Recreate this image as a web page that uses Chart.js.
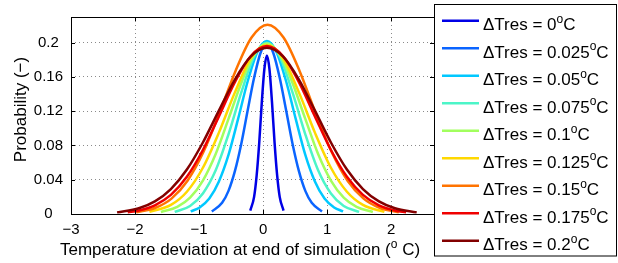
<!DOCTYPE html>
<html>
<head>
<meta charset="utf-8">
<script src="https://cdn.jsdelivr.net/npm/chart.js@4.4.1/dist/chart.umd.min.js"></script>
<style>
  html, body { margin: 0; padding: 0; background: #fff; }
  #wrap { width: 618px; height: 263px; }
</style>
</head>
<body>
<div id="wrap"><canvas id="chart" width="618" height="263"></canvas></div>
<script>
// values (x in deg C, y probability)
const tresLabels = ["0", "0.025", "0.05", "0.075", "0.1", "0.125", "0.15", "0.175", "0.2"];
const lineColors = ["#0000e6", "#0a64ff", "#00c8ff", "#4cf5c8", "#a2ff5e", "#ffd800", "#ff7300", "#f00000", "#820000"];

const xTicks = [-3, -2, -1, 0, 1, 2];
const yTicks = [0, 0.04, 0.08, 0.12, 0.16, 0.2];

const x0 = [-0.20, -0.14, -0.10, -0.06, -0.02, 0.02, 0.06, 0.10, 0.14, 0.18, 0.22, 0.26, 0.32];
const y0 = [0.004, 0.020, 0.045, 0.083, 0.130, 0.169, 0.185, 0.169, 0.130, 0.083, 0.045, 0.020, 0.004];
const x1 = [-0.80, -0.64, -0.54, -0.44, -0.34, -0.24, -0.14, -0.04, 0.06, 0.16, 0.26, 0.36, 0.46, 0.56, 0.66, 0.76, 0.92];
const y1 = [0.003, 0.013, 0.027, 0.050, 0.082, 0.121, 0.159, 0.188, 0.199, 0.188, 0.159, 0.121, 0.082, 0.050, 0.027, 0.013, 0.003];
const x2 = [-1.13, -0.99, -0.84, -0.69, -0.54, -0.39, -0.24, -0.09, 0.06, 0.21, 0.36, 0.51, 0.66, 0.81, 0.96, 1.11, 1.25];
const y2 = [0.003, 0.0076, 0.018, 0.038, 0.069, 0.111, 0.155, 0.189, 0.202, 0.189, 0.155, 0.111, 0.069, 0.038, 0.018, 0.0076, 0.003];
const x3 = [-1.38, -1.14, -0.94, -0.74, -0.54, -0.34, -0.14, 0.06, 0.26, 0.46, 0.66, 0.86, 1.06, 1.26, 1.50];
const y3 = [0.0024, 0.0094, 0.024, 0.051, 0.093, 0.142, 0.184, 0.200, 0.184, 0.142, 0.093, 0.051, 0.024, 0.0094, 0.0024];
const x4 = [-1.595, -1.34, -1.14, -0.94, -0.74, -0.54, -0.34, -0.14, 0.06, 0.26, 0.46, 0.66, 0.86, 1.06, 1.26, 1.46, 1.715];
const y4 = [0.0023, 0.0083, 0.019, 0.039, 0.070, 0.111, 0.153, 0.186, 0.199, 0.186, 0.153, 0.111, 0.070, 0.039, 0.019, 0.0083, 0.0023];
const x5 = [-1.775, -1.44, -1.19, -0.94, -0.69, -0.44, -0.19, 0.06, 0.31, 0.56, 0.81, 1.06, 1.31, 1.56, 1.895];
const y5 = [0.0025, 0.0106, 0.026, 0.054, 0.095, 0.142, 0.182, 0.197, 0.182, 0.142, 0.095, 0.054, 0.026, 0.0106, 0.0025];
const x6 = [-1.98, -1.68, -1.43, -1.18, -0.93, -0.68, -0.43, -0.18, 0.07, 0.32, 0.57, 0.82, 1.07, 1.32, 1.57, 1.82, 2.12];
const y6 = [0.002, 0.0073, 0.018, 0.0388, 0.0726, 0.118, 0.167, 0.206, 0.221, 0.206, 0.167, 0.118, 0.0726, 0.0388, 0.018, 0.0073, 0.002];
const x7 = [-2.115, -1.94, -1.69, -1.44, -1.19, -0.94, -0.69, -0.44, -0.19, 0.06, 0.31, 0.56, 0.81, 1.06, 1.31, 1.56, 1.81, 2.06, 2.235];
const y7 = [0.002, 0.0041, 0.0102, 0.0224, 0.0434, 0.0747, 0.114, 0.154, 0.1845, 0.196, 0.1845, 0.154, 0.114, 0.0747, 0.0434, 0.0224, 0.0102, 0.0041, 0.002];
const x8 = [-2.28, -1.94, -1.69, -1.44, -1.19, -0.94, -0.69, -0.44, -0.19, 0.06, 0.31, 0.56, 0.81, 1.06, 1.31, 1.56, 1.81, 2.06, 2.40];
const y8 = [0.0019, 0.0067, 0.0147, 0.0291, 0.0519, 0.0835, 0.1207, 0.157, 0.184, 0.194, 0.184, 0.157, 0.1207, 0.0835, 0.0519, 0.0291, 0.0147, 0.0067, 0.0019];

const xs = [x0, x1, x2, x3, x4, x5, x6, x7, x8];
const ys = [y0, y1, y2, y3, y4, y5, y6, y7, y8];

const FONT = "'Liberation Sans', Arial, Helvetica, sans-serif";

// draws a run of text pieces, some raised as superscripts
function drawRuns(ctx, runs, x, y) {
  runs.forEach(r => {
    ctx.font = r.size + "px " + FONT;
    ctx.fillText(r.t, x, y - (r.up || 0));
    x += ctx.measureText(r.t).width;
  });
  return x;
}

const extras = {
  id: "extras",
  afterDraw(chart) {
    const ctx = chart.ctx;
    const a = chart.chartArea;
    ctx.save();
    ctx.fillStyle = "#000";
    ctx.strokeStyle = "#000";
    ctx.lineWidth = 1;

    // axes box and inward ticks
    ctx.strokeRect(Math.round(a.left) + 0.5, Math.round(a.top) + 0.5,
      Math.round(a.right - a.left), Math.round(a.bottom - a.top));
    const sx = chart.scales.x, sy = chart.scales.y;
    ctx.beginPath();
    xTicks.forEach(v => {
      const px = Math.round(sx.getPixelForValue(v)) + 0.5;
      ctx.moveTo(px, a.bottom); ctx.lineTo(px, a.bottom - 4);
      ctx.moveTo(px, a.top); ctx.lineTo(px, a.top + 4);
    });
    yTicks.forEach(v => {
      const py = Math.round(sy.getPixelForValue(v)) + 0.5;
      ctx.moveTo(a.left, py); ctx.lineTo(a.left + 4, py);
      ctx.moveTo(a.right, py); ctx.lineTo(a.right - 4, py);
    });
    ctx.stroke();

    // x title with superscript o
    ctx.textBaseline = "alphabetic";
    ctx.textAlign = "left";
    drawRuns(ctx, [
      { t: "Temperature deviation at end of simulation (", size: 17 },
      { t: "o", size: 12, up: 7.5 },
      { t: " C)", size: 17 }
    ], 60, 255);

    // y title
    ctx.save();
    ctx.translate(26, 109.5);
    ctx.rotate(-Math.PI / 2);
    ctx.textAlign = "center";
    ctx.font = "17px " + FONT;
    ctx.fillText("Probability (\u2212)", 0, 0);
    ctx.restore();

    // legend box
    const lx = 434.5, ly = 4.5, lw = 182, lh = 251.5;
    ctx.fillStyle = "#fff";
    ctx.fillRect(lx, ly, lw, lh);
    ctx.strokeRect(lx, ly, lw, lh);
    ctx.fillStyle = "#000";
    ctx.lineWidth = 2.5;
    tresLabels.forEach((lab, i) => {
      const yy = 20.7 + i * 27.5;
      ctx.strokeStyle = lineColors[i];
      ctx.beginPath();
      ctx.moveTo(442, yy); ctx.lineTo(479, yy);
      ctx.stroke();
      drawRuns(ctx, [
        { t: "\u0394Tres = " + lab, size: 17 },
        { t: "o", size: 12, up: 7.5 },
        { t: "C", size: 17 }
      ], 483, yy + 9.3);
    });
    ctx.restore();
  }
};

Chart.defaults.font.family = FONT;
Chart.defaults.font.size = 15;
Chart.defaults.color = "#000";

const datasets = tresLabels.map((lab, i) => ({
  label: "\u0394Tres = " + lab + " \u00b0C",
  data: xs[i].map((x, k) => ({ x: x, y: ys[i][k] })),
  borderColor: lineColors[i],
  backgroundColor: lineColors[i],
  borderWidth: 2.5,
  pointRadius: 0,
  fill: false,
  cubicInterpolationMode: "monotone",
  order: tresLabels.length - i,
}));

new Chart(document.getElementById("chart"), {
  type: "line",
  data: { datasets: datasets },
  options: {
    responsive: false,
    animation: false,
    devicePixelRatio: 1,
    layout: { padding: { left: 0, top: 5, right: 184, bottom: 0 } },
    plugins: { legend: { display: false }, tooltip: { enabled: false } },
    scales: {
      x: {
        type: "linear",
        min: -3,
        max: 2.67,
        afterBuildTicks: (s) => { s.ticks = xTicks.map(v => ({ value: v })); },
        afterFit: (s) => { s.height = 49; },
        grid: { color: "#8a8a8a", drawTicks: false },
        border: { display: false, dash: [1, 3] },
        ticks: {
          padding: 7,
          maxRotation: 0,
          callback: (v) => (v < 0 ? "\u2212" + Math.abs(v) : String(v)),
        },
      },
      y: {
        min: 0,
        max: 0.23,
        afterBuildTicks: (s) => { s.ticks = yTicks.map(v => ({ value: v })); },
        afterFit: (s) => { s.width = 71; },
        grid: { color: "#8a8a8a", drawTicks: false },
        border: { display: false, dash: [1, 3] },
        ticks: {
          padding: 8,
          crossAlign: "center",
          callback: (v) => String(v),
        },
      },
    },
  },
  plugins: [extras],
});
</script>
</body>
</html>
